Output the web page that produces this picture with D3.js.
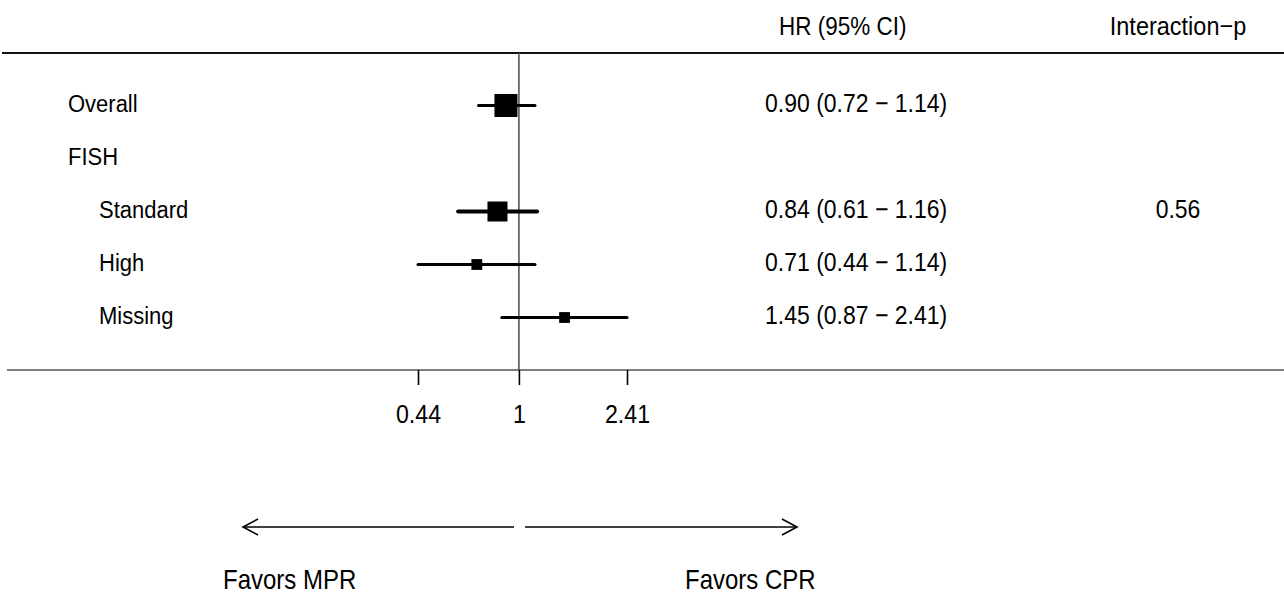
<!DOCTYPE html>
<html>
<head>
<meta charset="utf-8">
<script src="https://cdn.jsdelivr.net/npm/d3@7"></script>
<style>
  html, body { margin: 0; padding: 0; background: #fff; }
  svg { display: block; }
  text { font-family: "Liberation Sans", Arial, sans-serif; fill: #000; }
</style>
</head>
<body>
<svg id="chart" width="1284" height="596"></svg>
<script>
// ---- data ----
const rowLabels = ["Overall", "FISH", "Standard", "High", "Missing"];
const rowIndent = [0, 0, 1, 1, 1];
const hr = [0.90, null, 0.84, 0.71, 1.45];
const ciLow = [0.72, null, 0.61, 0.44, 0.87];
const ciHigh = [1.14, null, 1.16, 1.14, 2.41];
const ciText = ["0.90 (0.72 \u2212 1.14)", "", "0.84 (0.61 \u2212 1.16)", "0.71 (0.44 \u2212 1.14)", "1.45 (0.87 \u2212 2.41)"];
const boxWeight = [1.0, null, 0.87, 0.47, 0.47];
const interactionP = ["", "", "0.56", "", ""];
const tickValues = [0.44, 1, 2.41];
const tickLabels = ["0.44", "1", "2.41"];
const headers = ["HR (95% CI)", "Interaction\u2212p"];
const arrowLabels = ["Favors MPR", "Favors CPR"];

// ---- layout ----
const svg = d3.select("#chart");
const SY = 1.12; // vertical glyph stretch seen in reference
const x = d3.scaleLog().domain([0.44, 2.41]).range([418, 627]);
const y = d3.scaleLinear().domain([0, 4]).range([103.5, 315.5]);
const boxScale = d3.scaleLinear().domain([0, 1]).range([0, 23]);
const ciWidth = [3, 0, 4, 3, 3];

function label(px, py, txt, size, anchor) {
  return svg.append("text")
    .attr("transform", `translate(${px},${py}) scale(1,${SY})`)
    .attr("text-anchor", anchor || "start")
    .attr("dominant-baseline", "central")
    .style("font-size", size + "px")
    .text(txt);
}

// header text
label(779, 26, headers[0], 22.5);
label(1178, 26, headers[1], 23.5, "middle");

// top rule
svg.append("line").attr("x1", 2).attr("x2", 1284).attr("y1", 53).attr("y2", 53)
  .attr("stroke", "#111").attr("stroke-width", 2);

// reference line at 1
svg.append("line").attr("x1", x(1)).attr("x2", x(1)).attr("y1", 53).attr("y2", 370)
  .attr("stroke", "#555").attr("stroke-width", 1.6);

// bottom rule / axis line
svg.append("line").attr("x1", 7).attr("x2", 1284).attr("y1", 370).attr("y2", 370)
  .attr("stroke", "#555").attr("stroke-width", 1.6);

// axis
const axis = d3.axisBottom(x).tickValues(tickValues).tickSize(15)
  .tickFormat((d, i) => tickLabels[i]);
const gAxis = svg.append("g").attr("transform", "translate(0,370)").call(axis);
gAxis.select(".domain").remove();
gAxis.selectAll(".tick line").attr("stroke", "#000").attr("stroke-width", 1.6);
gAxis.selectAll(".tick text")
  .attr("y", 0).attr("dy", null)
  .attr("dominant-baseline", "central")
  .attr("transform", `translate(0,44) scale(1,${SY})`)
  .style("font-size", "23.2px")
  .style("font-family", "'Liberation Sans', Arial, sans-serif").attr("fill", "#000");

// row labels
rowLabels.forEach((d, i) => label(rowIndent[i] ? 99 : 68, y(i), d, 22));

// CI text
ciText.forEach((d, i) => { if (d) label(765, y(i), d, 23); });

// interaction p
interactionP.forEach((d, i) => { if (d) label(1178, y(i), d, 23, "middle"); });

// CI lines and boxes
const idx = d3.range(rowLabels.length).filter(i => hr[i] != null);
svg.selectAll("line.ciline").data(idx).enter().append("line")
  .attr("class", "ciline")
  .attr("x1", i => x(ciLow[i])).attr("x2", i => x(ciHigh[i]))
  .attr("y1", i => y(i) + 2).attr("y2", i => y(i) + 2)
  .attr("stroke", "#000").attr("stroke-width", i => ciWidth[i])
  .attr("stroke-linecap", "round");
svg.selectAll("rect.box").data(idx).enter().append("rect")
  .attr("class", "box")
  .attr("x", i => x(hr[i]) - boxScale(boxWeight[i]) / 2)
  .attr("y", i => y(i) + 2 - boxScale(boxWeight[i]) / 2)
  .attr("width", i => boxScale(boxWeight[i]))
  .attr("height", i => boxScale(boxWeight[i]))
  .attr("fill", "#000");

// arrows
const ay = 527;
function arrow(x1, x2) {
  svg.append("line").attr("x1", x1).attr("x2", x2).attr("y1", ay).attr("y2", ay)
    .attr("stroke", "#000").attr("stroke-width", 1.6);
  const dir = x2 > x1 ? 1 : -1;
  svg.append("path")
    .attr("d", `M${x2 - dir * 15},${ay - 8} L${x2},${ay} L${x2 - dir * 15},${ay + 8}`)
    .attr("fill", "none").attr("stroke", "#000").attr("stroke-width", 1.6);
}
arrow(514, 243);
arrow(525, 797);

label(223, 580, arrowLabels[0], 24);
label(685, 580, arrowLabels[1], 24);
</script>
</body>
</html>
